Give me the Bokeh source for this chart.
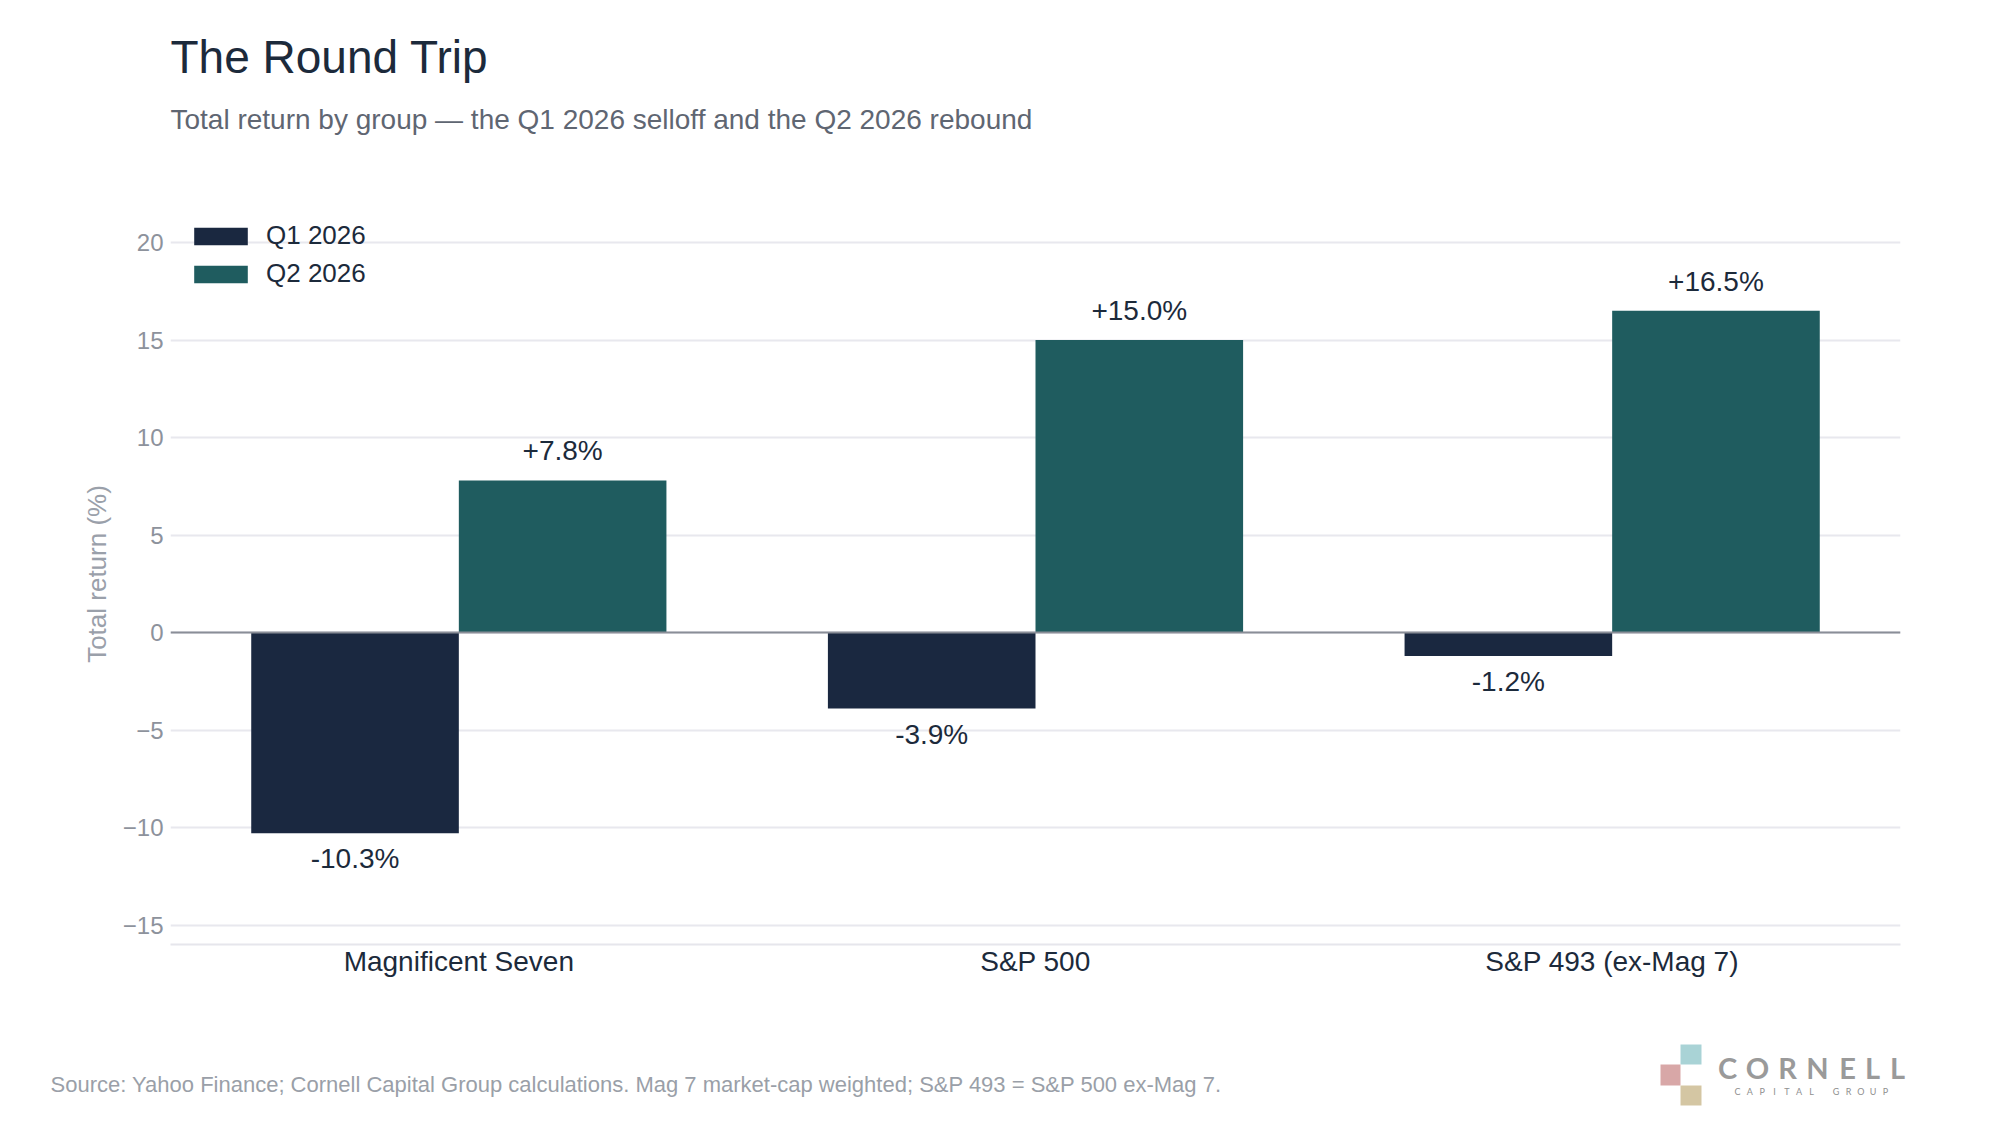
from bokeh.core.properties import value
from bokeh.embed import file_html
from bokeh.layouts import column
from bokeh.models import (BoxAnnotation, ColumnDataSource, FactorRange, FixedTicker,
                          Label, LabelSet, Legend, LegendItem, Range1d, Span)
from bokeh.plotting import figure
from bokeh.resources import INLINE
from bokeh.transform import dodge

# data
groups = ["Magnificent Seven", "S&P 500", "S&P 493 (ex-Mag 7)"]
series = ["Q1 2026", "Q2 2026"]
q1 = [-10.3, -3.9, -1.2]
q2 = [7.8, 15.0, 16.5]
y_ticks = [-15, -10, -5, 0, 5, 10, 15, 20]

FONT = "Liberation Sans"
DARK = "#1c2a3b"
colors = ["#1a2840", "#1f5c5f"]
offsets = [-0.18, 0.18]
W = 1984


def blank(h, top, bottom):
    # axis-free strip whose data coordinates are page pixels
    f = figure(width=W, height=h, x_range=Range1d(0, W), y_range=Range1d(bottom, top),
               x_axis_type=None, y_axis_type=None, min_border=0,
               title_location=None, frame_align=False,
               toolbar_location=None, output_backend="svg")
    f.outline_line_color = None
    return f


def note(f, text, x, y, size, color, font=FONT, style="normal", align="left"):
    f.add_layout(Label(x=x, y=y, text=text, text_font=font, text_font_size=f"{size}px",
                       text_font_style=style, text_color=color, text_align=align,
                       text_baseline="alphabetic"))


# header
head = blank(203, 0, 203)
note(head, "The Round Trip", 170, 56, 46, DARK)
note(head, "Total return by group \u2014 the Q1 2026 selloff and the Q2 2026 rebound", 170, 119, 28, "#5f6672")

# main chart
p = figure(x_range=FactorRange(factors=groups, range_padding=0),
           y_range=Range1d(-16, 22),
           width=W, height=807,
           min_border_left=170, min_border_right=84,
           min_border_top=0, min_border_bottom=66,
           title_location=None, frame_align=False,
           toolbar_location=None, output_backend="svg")
p.outline_line_color = None

renderers = []
for name, vals, col, off in zip(series, [q1, q2], colors, offsets):
    src = ColumnDataSource(dict(group=groups, val=vals))
    r = p.vbar(x=dodge("group", off, range=p.x_range), top="val", width=0.36,
               source=src, fill_color=col, line_color=None)
    renderers.append(r)

    # value labels, above positive bars and below negative ones
    for sign in (1, -1):
        g = [gr for gr, v in zip(groups, vals) if (v >= 0) == (sign > 0)]
        v = [v for v in vals if (v >= 0) == (sign > 0)]
        if not g:
            continue
        lsrc = ColumnDataSource(dict(group=g, val=v, txt=[f"{x:+.1f}%" for x in v]))
        p.add_layout(LabelSet(x=dodge("group", off, range=p.x_range), y="val", text="txt",
                              source=lsrc, text_align="center",
                              text_baseline="alphabetic" if sign > 0 else "top",
                              y_offset=20 if sign > 0 else -10,
                              text_font=value(FONT), text_font_size="28px",
                              text_color=DARK))

p.add_layout(Span(location=0, dimension="width", line_color="#8a8e97", line_width=2))

p.xgrid.grid_line_color = None
p.ygrid.grid_line_color = "#e8e8ee"
p.ygrid.grid_line_width = 2
p.yaxis.ticker = FixedTicker(ticks=y_ticks)
p.yaxis.major_label_overrides = {t: (f"\u2212{-t}" if t < 0 else str(t)) for t in y_ticks}
p.yaxis.axis_line_color = None
p.yaxis.major_tick_line_color = None
p.yaxis.minor_tick_line_color = None
p.yaxis.major_tick_out = 0
p.yaxis.major_tick_in = 0
p.yaxis.major_label_standoff = 7
p.yaxis.major_label_text_font = FONT
p.yaxis.major_label_text_font_size = "24px"
p.yaxis.major_label_text_color = "#8d929c"
p.yaxis.axis_label = "Total return (%)"
p.yaxis.axis_label_text_font = FONT
p.yaxis.axis_label_text_font_size = "26px"
p.yaxis.axis_label_text_font_style = "normal"
p.yaxis.axis_label_text_color = "#9aa0aa"
p.yaxis.axis_label_standoff = 8

p.xaxis.axis_line_color = "#e6e6ec"
p.xaxis.axis_line_width = 2
p.xaxis.major_tick_line_color = None
p.xaxis.minor_tick_line_color = None
p.xaxis.major_tick_out = 0
p.xaxis.major_tick_in = 0
p.xaxis.major_label_standoff = 1
p.xaxis.major_label_text_font = FONT
p.xaxis.major_label_text_font_size = "28px"
p.xaxis.major_label_text_color = DARK

legend = Legend(items=[LegendItem(label=s, renderers=[r]) for s, r in zip(series, renderers)],
                location="top_left", glyph_width=67, glyph_height=22,
                label_text_font=FONT, label_text_font_size="26px", label_text_color=DARK,
                label_standoff=12, spacing=7, padding=0, margin=17,
                border_line_color=None, background_fill_alpha=0)
p.add_layout(legend)

# footer with source note and logo
foot = blank(99, 1010, 1109)
note(foot, "Source: Yahoo Finance; Cornell Capital Group calculations. Mag 7 market-cap weighted; "
     "S&P 493 = S&P 500 ex-Mag 7.", 50, 1084, 22, "#9a9fa8")
for (l, r, t, b), c in zip([(1680, 1701, 1044, 1064), (1660, 1680, 1064, 1085), (1680, 1701, 1085, 1105)],
                           ["#a9d3d6", "#d8a7a7", "#d4c6a3"]):
    foot.add_layout(BoxAnnotation(left=l, right=r, top=t, bottom=b,
                                  fill_color=c, fill_alpha=1, line_color=None))
for ch, cx in zip("CORNELL", [1727, 1757, 1787, 1817, 1847, 1872, 1897]):
    note(foot, ch, cx, 1067, 29, "#9a9a9a", font="Lato", style="bold", align="center")
for i, ch in enumerate("CAPITAL GROUP"):
    note(foot, ch, 1737 + i * 12.33, 1091, 9, "#8f8f8f", font="Lato", align="center")

page = column(head, p, foot, spacing=0)
open("out.html", "w").write(file_html(page, INLINE))
